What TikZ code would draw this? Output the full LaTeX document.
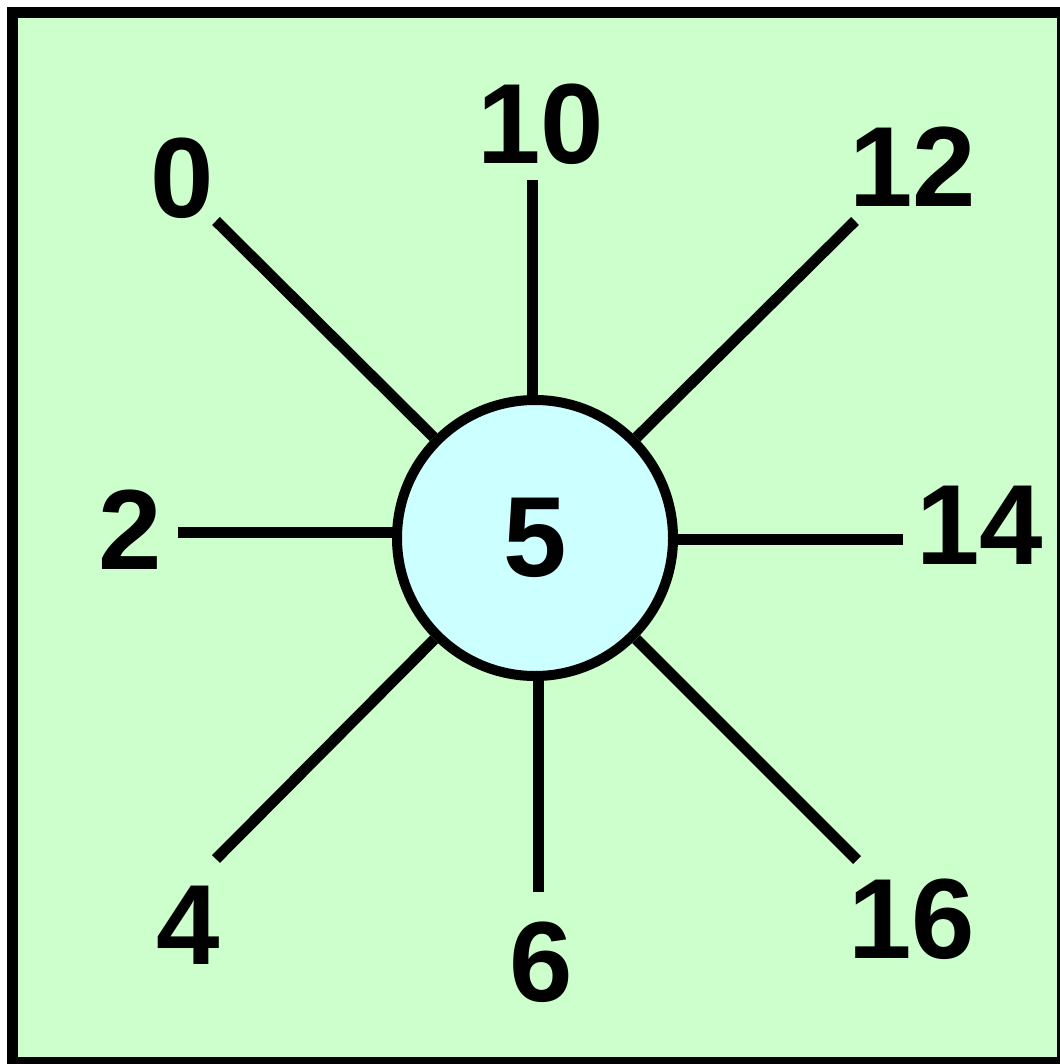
\documentclass[tikz,border=0pt]{standalone}
\usepackage{fontspec}
\setmainfont{Liberation Sans}
\definecolor{bggreen}{HTML}{CCFFCC}
\definecolor{hubcyan}{HTML}{CCFFFF}
\tikzset{
  lbl/.style={inner sep=0pt, font=\fontsize{114}{114}\selectfont\bfseries},
  spoke/.style={line width=11pt, black},
  hub/.style={circle, draw=black, line width=10pt, fill=hubcyan, minimum size=276pt, inner sep=0pt, font=\fontsize{114}{114}\selectfont\bfseries},
  frame/.style={draw=black, line width=11pt, fill=bggreen}
}
\begin{document}
\begin{tikzpicture}[x=1pt, y=-1pt]
\useasboundingbox (0,0) rectangle (1059,1064);
\path[frame] (12.5,12.5) rectangle (1062,1062.5);
\node[hub] (c) at (535,538) {5};
\node[lbl] (l0) at (182,178) {0};
\node[lbl] (l10) at (541,124) {10};
\node[lbl] (l12) at (913,167) {12};
\node[lbl] (l2) at (130,530) {2};
\node[lbl] (l14) at (980,525) {14};
\node[lbl] (l4) at (188,925) {4};
\node[lbl] (l6) at (541,962) {6};
\node[lbl] (l16) at (912,919) {16};
\coordinate (e0) at (216,221);
\coordinate (e10) at (532,180);
\coordinate (e12) at (855,221);
\coordinate (e2) at (178,532);
\coordinate (e14) at (903,539);
\coordinate (e4) at (216,859);
\coordinate (e6) at (538,892);
\coordinate (e16) at (857,860);
\foreach \e in {e0,e12,e4,e16}{
  \draw[spoke] (c) -- (\e);
}
\draw[spoke] ([yshift=-4pt]e10 |- c.north) -- (e10);
\draw[spoke] ([yshift=4pt]e6 |- c.south) -- (e6);
\draw[spoke] ([xshift=4pt]c.west |- e2) -- (e2);
\draw[spoke] ([xshift=-4pt]c.east |- e14) -- (e14);
\end{tikzpicture}
\end{document}
